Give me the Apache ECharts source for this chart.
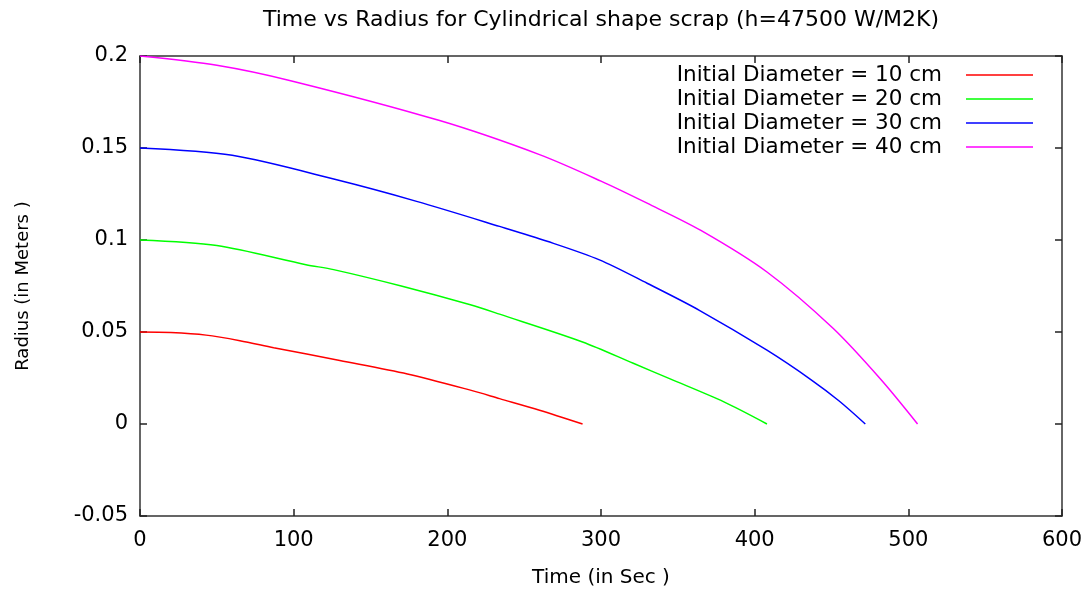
<!DOCTYPE html>
<html style="height: 100%">
<head>
    <meta charset="utf-8">
    <title>Time vs Radius</title>
    <script src="https://cdn.jsdelivr.net/npm/echarts/dist/echarts.min.js"></script>
</head>
<body style="height: 100%; margin: 0; background: #fff">
    <div id="main" style="width: 1091px; height: 593px"></div>
    <script type="text/javascript">
        var myChart = echarts.init(document.getElementById('main'));

        // series names
        var names = [
            'Initial Diameter = 10 cm',
            'Initial Diameter = 20 cm',
            'Initial Diameter = 30 cm',
            'Initial Diameter = 40 cm'
        ];
        var colors = ['#ff0000', '#00ff00', '#0000ff', '#ff00ff'];

        // time (s) and radius (m)
        var t10 = [0, 20, 43, 65, 87, 130, 174, 215, 234, 260, 288];
        var r10 = [0.05, 0.0497, 0.0483, 0.0453, 0.0415, 0.0345, 0.0272, 0.0184, 0.0138, 0.0075, 0];

        var t20 = [0, 50, 108, 126, 170, 215, 234, 288, 321, 345, 380, 408];
        var r20 = [0.1, 0.097, 0.0866, 0.0839, 0.075, 0.0648, 0.0597, 0.0446, 0.033, 0.0245, 0.012, 0];

        var t30 = [0, 60, 128, 180, 234, 265, 299, 330, 364, 408, 437, 455, 472];
        var r30 = [0.15, 0.146, 0.1327, 0.121, 0.1074, 0.0993, 0.0892, 0.0765, 0.0618, 0.0401, 0.0239, 0.0125, 0];

        var t40 = [0, 50, 98, 195, 260, 300, 330, 365, 408, 451, 482, 506];
        var r40 = [0.2, 0.195, 0.1866, 0.1649, 0.1464, 0.132, 0.12, 0.1052, 0.0826, 0.052, 0.0243, 0];

        var xTicks = [0, 100, 200, 300, 400, 500, 600];
        var yTicks = [-0.05, 0, 0.05, 0.1, 0.15, 0.2];

        function pairs(t, r) {
            return t.map(function (v, i) { return [v, r[i]]; });
        }
        var allData = [pairs(t10, r10), pairs(t20, r20), pairs(t30, r30), pairs(t40, r40)];

        var font = 'DejaVu Sans, Arial, sans-serif';
        var frame = { show: true, onZero: false, lineStyle: { color: '#333', width: 1.5 } };
        var tick = { show: true, inside: true, length: 7, lineStyle: { color: '#222', width: 1.5 } };

        var option = {
            animation: false,
            backgroundColor: '#fff',
            title: {
                text: 'Time vs Radius for Cylindrical shape scrap (h=47500 W/M2K)',
                left: 596,
                textAlign: 'center',
                top: 4,
                textStyle: { fontFamily: font, fontSize: 22, fontWeight: 'normal', color: '#000' }
            },
            legend: {
                orient: 'vertical',
                right: 53,
                top: 59,
                align: 'right',
                icon: 'rect',
                itemWidth: 67,
                itemHeight: 1.5,
                itemGap: 2,
                selectedMode: false,
                textStyle: { fontFamily: font, fontSize: 21.5, color: '#000', padding: [0, 19, 0, 0], lineHeight: 21 },
                data: names
            },
            grid: { left: 140, right: 29, top: 56, bottom: 76 },
            xAxis: [{
                type: 'value',
                min: 0, max: 600, interval: 100,
                name: 'Time (in Sec )',
                nameLocation: 'middle',
                nameGap: 52,
                nameTextStyle: { fontFamily: font, fontSize: 20, color: '#000' },
                axisLine: frame,
                axisTick: tick,
                axisLabel: { fontFamily: font, fontSize: 21, color: '#000', margin: 14,
                    formatter: function (v) { return xTicks.indexOf(v) >= 0 ? String(v) : ''; } },
                splitLine: { show: false }
            }, {
                type: 'value', position: 'top',
                min: 0, max: 600, interval: 100,
                axisLine: frame, axisTick: tick,
                axisLabel: { show: false }, splitLine: { show: false }
            }],
            yAxis: [{
                type: 'value',
                min: -0.05, max: 0.2, interval: 0.05,
                name: 'Radius (in Meters )',
                nameLocation: 'middle',
                nameGap: 108,
                nameTextStyle: { fontFamily: font, fontSize: 18, color: '#000' },
                axisLine: frame,
                axisTick: tick,
                axisLabel: { fontFamily: font, fontSize: 21, color: '#000', margin: 12,
                    formatter: function (v) {
                        var r = Math.round(v * 100) / 100;
                        return String(r);
                    } },
                splitLine: { show: false }
            }, {
                type: 'value', position: 'right',
                min: -0.05, max: 0.2, interval: 0.05,
                axisLine: frame, axisTick: tick,
                axisLabel: { show: false }, splitLine: { show: false }
            }],
            series: names.map(function (n, i) {
                return {
                    name: n,
                    type: 'line',
                    data: allData[i],
                    smooth: 0.3,
                    showSymbol: false,
                    symbol: 'none',
                    color: colors[i],
                    lineStyle: { color: colors[i], width: 1.5 }
                };
            })
        };

        myChart.setOption(option);
    </script>
</body>
</html>
